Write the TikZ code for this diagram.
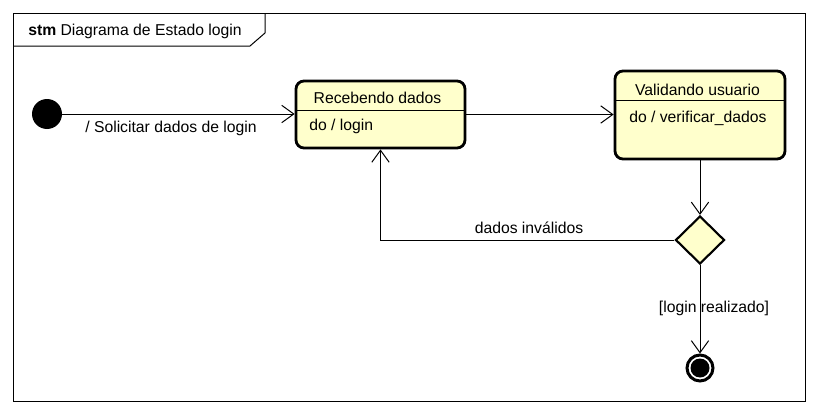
\documentclass[tikz,border=0pt]{standalone}
\usepackage{fontspec}
\setmainfont{Liberation Sans}
\usetikzlibrary{arrows.meta,shapes.geometric}

\definecolor{stateyellow}{RGB}{255,255,204}

\tikzset{
    state/.style={draw, line width=2.1pt, rounded corners=6pt, fill=stateyellow, inner sep=0pt},
    trans/.style={-{Straight Barb[length=9pt,width=13pt]}, line width=0.75pt},
    lbl/.style={font=\fontsize{11.8}{14}\selectfont, inner sep=0pt},
}

\begin{document}
\begin{tikzpicture}[x=0.75pt, y=-0.75pt]

    % Fix the size of the picture
    \useasboundingbox (0,0) rectangle (818,414);

    % Draw the frame and its name tag
    \draw[line width=0.75pt] (13,13) rectangle (805,401);
    \draw[line width=0.75pt] (13,46) -- (250,46) -- (265,33) -- (265,13);
    \node[lbl, anchor=west] (tag) at (28,31) {\textbf{stm} Diagrama de Estado login};

    % Initial and final states
    \node[circle, fill=black, minimum size=22.5pt, inner sep=0pt] (init) at (47,114) {};
    \node[circle, draw, line width=2.25pt, minimum size=19.5pt, inner sep=0pt] (fim) at (700,368) {};
    \node[circle, fill=black, minimum size=14.25pt, inner sep=0pt] (fimdot) at (fim) {};

    % The two states with their compartments
    \node[state, minimum width=126.75pt, minimum height=50.25pt] (rec) at (380.5,114.5) {};
    \node[state, minimum width=127.5pt, minimum height=66pt] (val) at (700,115) {};
    \draw[line width=0.75pt] ([yshift=-23.25pt]rec.north west) -- ([yshift=-23.25pt]rec.north east);
    \draw[line width=0.75pt] ([yshift=-23.25pt]val.north west) -- ([yshift=-23.25pt]val.north east);

    % The choice
    \node[diamond, draw, fill=stateyellow, line width=1.6pt, minimum width=36.75pt, minimum height=36pt, inner sep=0pt] (dec) at (700,240) {};

    % State texts
    \node[lbl] (recname) at (377.5,97.5) {Recebendo dados};
    \node[lbl, anchor=west] (recdo) at (309,126) {do / login};
    \node[lbl] (valname) at (697.5,90) {Validando usuario};
    \node[lbl, anchor=west] (valdo) at (629,118) {do / verificar\_dados};

    % Transitions
    \draw[trans] (init) -- (init -| rec.west);
    \draw[trans] (rec) -- (rec -| val.west);
    \draw[trans] (val) -- (dec);
    \draw[trans] (dec.west) -| (rec.south);
    \draw[trans] (dec) -- (fim);

    % Transition labels
    \node[lbl] (solicitar) at (171,128) {/ Solicitar dados de login};
    \node[lbl] (invalidos) at (529,228) {dados inválidos};
    \node[lbl] (realizado) at (714,308) {[login realizado]};

\end{tikzpicture}
\end{document}
